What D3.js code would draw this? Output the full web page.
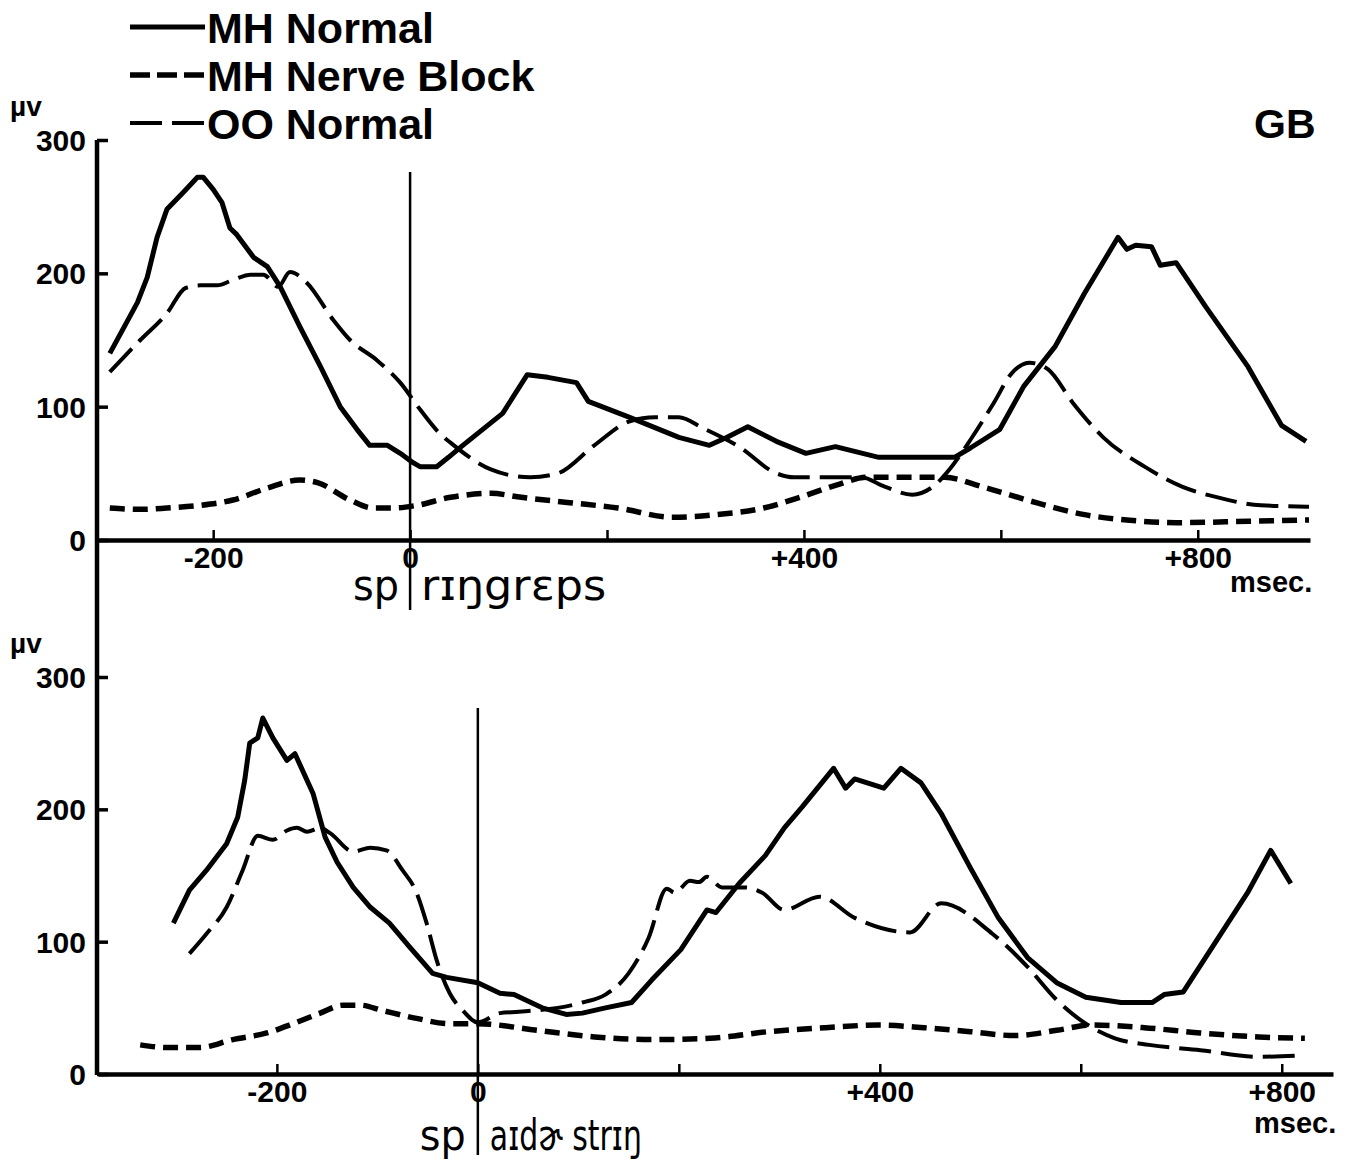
<!DOCTYPE html>
<html>
<head>
<meta charset="utf-8">
<script src="https://cdn.jsdelivr.net/npm/d3@7"></script>
<style>
  body { margin: 0; background: #fff; }
  svg text { font-family: "Liberation Sans", Arial, sans-serif; font-weight: bold; fill: #000; }
  .ipa { font-family: "DejaVu Sans", sans-serif !important; font-weight: normal !important; }
</style>
</head>
<body>
<div id="chart"></div>
<script>
var width = 1350, height = 1160;

// [msec, µV] samples, "spring grapes" utterance
var topMhNormal = [[-305,140],[-277,178],[-267,197],[-257,227],[-247,248],[-230,261],[-216,272],[-210,272],
  [-200,263],[-191,253],[-183,234],[-176,229],[-159,212],[-145,205],[-132,190],[-112,160],[-91,130],[-71,100],
  [-54,83],[-41,71],[-23,71],[-10,65],[3,58],[10,55],[27,55],[39,62],[52,70],[94,95],[119,124],[140,122],
  [169,118],[181,104],[223,92],[273,77],[304,71],[322,77],[343,85],[372,74],[402,65],[432,70],[476,62],
  [513,62],[553,62],[569,69],[599,83],[623,115],[655,145],[685,185],[719,227],[728,218],[737,221],[753,220],
  [762,206],[778,208],[808,175],[851,130],[885,86],[910,74]];
var topNerveBlock = [[-305,24],[-274,23],[-247,24],[-213,26],[-180,30],[-145,39],[-112,45],[-94,43],[-61,30],
  [-38,24],[-17,24],[7,26],[41,32],[82,35],[113,32],[162,28],[211,24],[267,17],[310,19],[359,24],[396,32],
  [432,41],[464,47],[543,47],[581,40],[636,28],[685,19],[728,15],[778,13],[851,14],[913,15]];
var topOoNormal = [[-305,126],[-274,150],[-247,170],[-228,189],[-213,191],[-196,191],[-180,195],[-162,199],
  [-149,199],[-134,190],[-122,201],[-105,193],[-78,165],[-61,150],[-34,135],[-10,118],[10,98],[30,80],[41,73],
  [82,53],[122,47],[150,50],[187,71],[223,89],[249,92],[273,92],[297,84],[334,70],[372,50],[390,47],[458,47],
  [482,40],[510,34],[531,40],[550,55],[569,75],[593,103],[611,125],[629,133],[648,128],[673,103],[704,77],
  [746,55],[784,40],[820,32],[864,26],[913,25]];

// [msec, µV] samples, "spider string" utterance
var botMhNormal = [[-303,114],[-287,139],[-270,154],[-250,174],[-239,194],[-232,222],[-227,250],[-219,254],
  [-214,269],[-204,254],[-190,237],[-182,242],[-164,212],[-152,179],[-140,160],[-124,141],[-107,126],[-88,114],
  [-68,96],[-45,76],[-31,73],[0,69],[22,61],[36,60],[64,50],[88,45],[104,46],[127,50],[153,54],[173,71],
  [202,94],[228,124],[237,122],[260,144],[286,165],[305,186],[323,202],[354,231],[366,216],[375,223],[404,216],
  [421,231],[441,220],[461,197],[490,156],[518,118],[547,88],[576,69],[605,58],[640,54],[671,54],[683,60],
  [702,62],[737,103],[766,137],[789,169],[809,144]];
var botNerveBlock = [[-336,22],[-309,20],[-277,20],[-244,26],[-210,31],[-184,38],[-157,46],[-134,52],[-117,52],
  [-95,48],[-61,42],[-28,38],[0,38],[59,33],[116,28],[173,26],[231,27],[289,32],[346,35],[398,37],[444,35],
  [490,32],[535,29],[576,33],[611,37],[663,35],[719,31],[777,28],[823,27]];
var botOoNormal = [[-287,91],[-270,106],[-250,126],[-234,154],[-219,180],[-204,177],[-190,184],[-180,186],
  [-170,183],[-157,186],[-147,182],[-124,168],[-107,171],[-91,169],[-75,154],[-61,137],[-51,114],[-41,86],
  [-28,61],[-15,48],[0,39],[22,46],[41,47],[104,54],[127,60],[150,76],[170,103],[188,140],[196,137],[211,146],
  [220,145],[228,149],[243,141],[266,141],[283,137],[305,124],[340,134],[375,118],[430,107],[461,129],
  [512,106],[547,81],[576,56],[605,38],[634,27],[668,22],[719,18],[777,13],[818,14]];

var legendNames = ["MH Normal", "MH Nerve Block", "OO Normal"];
var xTicks = [-200, 0, 200, 400, 600, 800];
var xTickLabels = {"-200": "-200", "0": "0", "400": "+400", "800": "+800"};
var yTicks = [0, 100, 200, 300];

var styles = [
  {width: 5, dash: null, curve: d3.curveLinear},
  {width: 5.5, dash: "15,8", curve: d3.curveMonotoneX},
  {width: 4, dash: "32,10", curve: d3.curveMonotoneX}
];

var svg = d3.select("#chart").append("svg")
  .attr("width", width)
  .attr("height", height);

// legend
legendNames.forEach(function(name, i) {
  var ly = 27 + i * 48;
  svg.append("line")
    .attr("x1", 130).attr("x2", 205).attr("y1", ly).attr("y2", ly)
    .attr("stroke", "#000").attr("stroke-width", styles[i].width)
    .attr("stroke-dasharray", i == 1 ? "20,7" : styles[i].dash);
  svg.append("text")
    .attr("x", 207).attr("y", ly + 16)
    .style("font-size", "43px")
    .text(name);
});

svg.append("text").attr("x", 1254).attr("y", 138).style("font-size", "41px").text("GB");

// shared left axis line
svg.append("line")
  .attr("x1", 97).attr("x2", 97).attr("y1", 140).attr("y2", 1075)
  .attr("stroke", "#000").attr("stroke-width", 4.5);

function panel(opts) {
  var x = d3.scaleLinear().domain(opts.xDomain).range(opts.xRange);
  var y = d3.scaleLinear().domain([0, 300]).range(opts.yRange);
  var g = svg.append("g");

  var xAxis = d3.axisBottom(x)
    .tickValues(xTicks)
    .tickSizeInner(-10)
    .tickSizeOuter(0)
    .tickPadding(7)
    .tickFormat(function(d) { return xTickLabels[d] || ""; });

  var gx = g.append("g")
    .attr("transform", "translate(0," + y(0) + ")")
    .call(xAxis);
  gx.select(".domain").attr("stroke-width", 4.5);
  gx.selectAll(".tick line").attr("stroke-width", 2.5);
  gx.selectAll(".tick text").style("font-size", "30px").style("font-family", null);

  var yAxis = d3.axisLeft(y)
    .tickValues(yTicks)
    .tickSizeInner(-11)
    .tickSizeOuter(0)
    .tickPadding(11)
    .tickFormat(d3.format("d"));

  var gy = g.append("g")
    .attr("transform", "translate(" + 97 + ",0)")
    .call(yAxis);
  gy.select(".domain").remove();
  gy.selectAll(".tick line").attr("stroke-width", 3.5);
  gy.selectAll(".tick text").style("font-size", "30px").style("font-family", null)
    .attr("dy", "0.35em");

  // µv unit label
  g.append("text").attr("x", 10).attr("y", y(300) - 24)
    .style("font-size", "28px").text("µv");

  // msec label
  g.append("text").attr("x", opts.msecX).attr("y", opts.msecY)
    .style("font-size", "29px").text("msec.");

  // stimulus onset line
  g.append("line")
    .attr("x1", x(0)).attr("x2", x(0))
    .attr("y1", opts.zeroTop).attr("y2", opts.zeroBottom)
    .attr("stroke", "#000").attr("stroke-width", 2.5);

  // phonetic transcription around the onset line
  g.append("text").attr("class", "ipa")
    .attr("x", x(0) - opts.ipaGap).attr("y", opts.ipaY)
    .attr("text-anchor", "end")
    .attr("textLength", 46)
    .attr("lengthAdjust", "spacingAndGlyphs")
    .style("font-size", "42px")
    .text("sp");
  g.append("text").attr("class", "ipa")
    .attr("x", x(0) + opts.ipaGap).attr("y", opts.ipaY)
    .attr("textLength", opts.ipaLen)
    .attr("lengthAdjust", "spacingAndGlyphs")
    .style("font-size", "42px")
    .text(opts.ipaRest);

  var series = [opts.normal, opts.block, opts.oo];
  series.forEach(function(data, i) {
    var line = d3.line()
      .curve(styles[i].curve)
      .x(function(d) { return x(d[0]); })
      .y(function(d) { return y(d[1]); });
    g.append("path")
      .datum(data)
      .attr("d", line)
      .attr("fill", "none")
      .attr("stroke", "#000")
      .attr("stroke-width", styles[i].width)
      .attr("stroke-linejoin", "round")
      .attr("stroke-dasharray", styles[i].dash);
  });
}

panel({
  xDomain: [-318, 914], xRange: [97, 1310], yRange: [540, 140],
  normal: topMhNormal, block: topNerveBlock, oo: topOoNormal,
  zeroTop: 172, zeroBottom: 610,
  ipaY: 600, ipaGap: 11, ipaRest: "rɪŋgrɛps", ipaLen: 185,
  msecX: 1230, msecY: 592
});

panel({
  xDomain: [-378, 851], xRange: [98, 1333], yRange: [1074, 677],
  normal: botMhNormal, block: botNerveBlock, oo: botOoNormal,
  zeroTop: 708, zeroBottom: 1155,
  ipaY: 1150, ipaGap: 12, ipaRest: "aɪdɚ strɪŋ", ipaLen: 152,
  msecX: 1254, msecY: 1133
});
</script>
</body>
</html>
